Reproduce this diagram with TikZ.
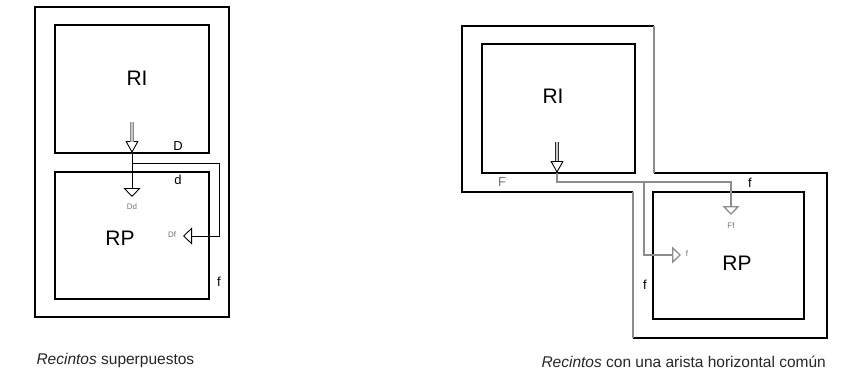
\documentclass[tikz,border=0pt]{standalone}
\usepackage{fontspec}
\setmainfont{Liberation Sans}
\usetikzlibrary{arrows.meta}
\definecolor{LineGray}{RGB}{140,140,140}
\definecolor{TextGray}{RGB}{115,115,115}
\definecolor{ShaftFill}{RGB}{200,200,200}

\begin{document}
\begin{tikzpicture}[x=1pt, y=-1pt,
    box/.style={draw=black, line width=1.2pt},
    edgegray/.style={draw=LineGray, line width=1.6pt},
    conn/.style={draw=black, line width=0.9pt},
    conngray/.style={draw=LineGray, line width=1.3pt},
    shaft/.style={draw=LineGray, line width=0.8pt, double=ShaftFill, double distance=2.6pt},
    headbig/.style={-{Triangle[open, width=13pt, length=12pt, fill=white]}},
    headsmall/.style={-{Triangle[open, width=17pt, length=9pt, fill=white]}},
    big/.style={font=\fontsize{21}{23}\selectfont},
    lbl/.style={font=\fontsize{13}{15}\selectfont},
    tinylbl/.style={font=\fontsize{8}{9}\selectfont, text=TextGray},
    caption/.style={font=\fontsize{15.5}{17}\selectfont, text=black!85}]
  \useasboundingbox (0,0) rectangle (861,380);

  % Recintos superpuestos
  \draw[box] (35,7) rectangle (229,317);
  \draw[box] (55,25) rectangle (209,153);
  \draw[box] (55,172) rectangle (209,299);
  \node[big] (ri1) at (137,78) {RI};
  \node[big] (rp1) at (120,238) {RP};

  \coordinate (s1) at (132,122);
  \coordinate (h1) at (132,142);
  \coordinate (t1) at (132,153);
  \coordinate (b1) at (132,163);
  \coordinate (c1) at (219,236);
  \coordinate (ddtip) at (132,197);
  \coordinate (dftip) at (183,236);

  \draw[conn, headbig] (s1) -- (t1);
  \draw[shaft] (s1) -- (h1);
  \draw[conn, headsmall] (t1) -- (ddtip);
  \draw[conn, headsmall] (b1) -| (c1) -- (dftip);

  \node[tinylbl] (dd) at (132,207) {Dd};
  \node[tinylbl] (df) at (172,235) {Df};
  \node[lbl] (lD) at (178,146) {D};
  \node[lbl] (ld) at (178,180) {d};
  \node[lbl] (lf1) at (219,282) {f};

  \node[caption, anchor=west] (cap1) at (33,360) {\textit{Recintos} superpuestos};

  % Recintos con una arista horizontal comun
  \draw[box] (654,173) -- (827,173) -- (827,338) -- (633,338);
  \draw[box] (633,192) -- (462,192) -- (462,26) -- (654,26);
  \draw[edgegray] (654,26) -- (654,173);
  \draw[edgegray] (633,338) -- (633,192);
  \draw[box] (482,44) rectangle (635,173);
  \draw[box] (653,192) rectangle (804,319);
  \node[big] (ri2) at (553,96) {RI};
  \node[big] (rp2) at (737,263) {RP};

  \coordinate (s2) at (557,142);
  \coordinate (h2) at (557,161);
  \coordinate (t2) at (557,173);
  \coordinate (k2) at (731,182);
  \coordinate (j2) at (644,182);
  \coordinate (m2) at (644,255);
  \coordinate (fftip) at (731,215);
  \coordinate (ftip) at (681,255);

  \draw[conn, headbig] (s2) -- (t2);
  \draw[shaft, draw=black!80] (s2) -- (h2);
  \draw[conngray, headsmall] (t2) |- (k2) -- (fftip);
  \draw[conngray, headsmall] (j2) -- (m2) -- (ftip);

  \node[tinylbl] (ff) at (731,226) {Ff};
  \node[tinylbl] (fs) at (687,254) {f};
  \node[lbl, text=TextGray] (lF) at (502,182) {F};
  \node[lbl] (lf2) at (750,183) {f};
  \node[lbl] (lf3) at (645,285) {f};

  \node[caption, anchor=west] (cap2) at (538,362) {\textit{Recintos} con una arista horizontal común};
\end{tikzpicture}
\end{document}
